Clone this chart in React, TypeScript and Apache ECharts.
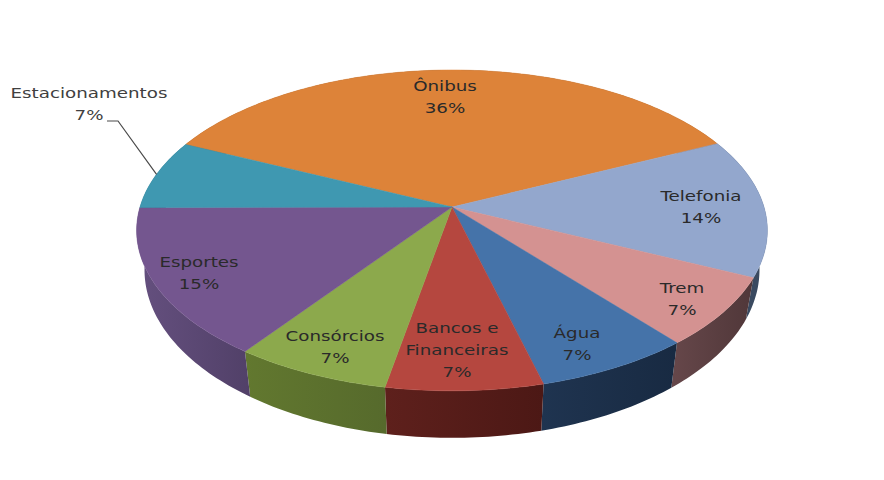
import React, { useEffect, useRef } from "react";
import * as echarts from "echarts";

// Share of complaints per sector, clockwise from the start of the largest slice.
const categories = ["Ônibus", "Telefonia", "Trem", "Água", "Bancos e\nFinanceiras", "Consórcios", "Esportes", "Estacionamentos"];
const shares = [36, 14, 7, 7, 7, 7, 15, 7];

const topColors = ["#DD8339", "#93A7CD", "#D49291", "#4573A9", "#B5473F", "#8CA94C", "#74568F", "#3F98B1"];
const wallLight = ["#8a5020", "#3a4a60", "#66474a", "#1f3450", "#5e201c", "#62782f", "#65507f", "#27606f"];
const wallDark = ["#8a5020", "#3a4a60", "#503739", "#182a42", "#4c1815", "#566a2c", "#514068", "#27606f"];

// Label centres on the page, in slice order; the last one sits outside the pie.
const labelCentres = [[445, 97], [701, 207], [682, 299], [577, 344], [457, 350], [335, 347], [199, 273], [89, 104]];
const LEADER_ELBOW_START = [107, 121];
const LEADER_ELBOW = [118, 121];

// The lettering is set wider than the font's natural proportions.
const LABEL_STRETCH = 1.26;

// Tilted-disc projection: apex of the pie, radii and perspective strength.
const APEX = { x: 452, y: 207 };
const RADIUS_X = 312;
const RADIUS_Y = 157;
const PERSPECTIVE = 0.146;
const START_ANGLE = -65;
const TOTAL = shares.reduce((a, b) => a + b, 0);

function project(deg: number, r = 1) {
  const t = (deg * Math.PI) / 180;
  const u = Math.sin(t) * r;
  const v = Math.cos(t) * r;
  const w = 1 + PERSPECTIVE * v;
  return { x: APEX.x + (RADIUS_X * u) / w, y: APEX.y - (RADIUS_Y * v) / w, v };
}

// The lower rim is slightly narrower and the wall is taller towards the viewer.
function lowerRim(deg: number) {
  const p = project(deg);
  return [APEX.x + (p.x - APEX.x) * 0.975, p.y + 38 - 9 * p.v];
}

function sliceAngles(index: number) {
  const before = shares.slice(0, index).reduce((a, b) => a + b, 0);
  const a0 = START_ANGLE + (before / TOTAL) * 360;
  return [a0, a0 + (shares[index] / TOTAL) * 360];
}

function arcSteps(a0: number, a1: number) {
  const n = Math.max(2, Math.ceil(a1 - a0));
  return Array.from({ length: n + 1 }, (_, i) => a0 + ((a1 - a0) * i) / n);
}

const sliceData = shares.map((value, i) => ({ name: categories[i], value: [i, value] }));

export default function App() {
  const ref = useRef<HTMLDivElement>(null);

  useEffect(() => {
    document.body.style.margin = "0";
    const chart = echarts.init(ref.current!, undefined, { renderer: "svg" });

    const renderWall = (_: any, api: any) => {
      const i = api.value(0);
      const [a0, a1] = sliceAngles(i);
      const angles = arcSteps(a0, a1);
      const top = angles.map((a) => {
        const p = project(a);
        return [p.x, p.y];
      });
      const bottom = angles.map(lowerRim).reverse();
      return {
        type: "polygon",
        shape: { points: [...top, ...bottom] },
        style: {
          fill: new echarts.graphic.LinearGradient(0, 0, 1, 0, [
            { offset: 0, color: wallLight[i] },
            { offset: 1, color: wallDark[i] },
          ]),
          stroke: "none",
        },
      };
    };

    const renderTop = (_: any, api: any) => {
      const i = api.value(0);
      const [a0, a1] = sliceAngles(i);
      const rim = arcSteps(a0, a1).map((a) => {
        const p = project(a);
        return [p.x, p.y];
      });
      return {
        type: "polygon",
        shape: { points: [[APEX.x, APEX.y], ...rim] },
        style: { fill: topColors[i], stroke: topColors[i], lineWidth: 0.5 },
      };
    };

    const renderLabel = (_: any, api: any) => {
      const i = api.value(0);
      const [x, y] = labelCentres[i];
      const text = {
        type: "text",
        x,
        y,
        scaleX: LABEL_STRETCH,
        style: {
          text: `${categories[i]}\n${api.value(1)}%`,
          x: 0,
          y: 0,
          align: "center",
          verticalAlign: "middle",
          font: '14.5px "DejaVu Sans"',
          lineHeight: 22,
          fill: i === 7 ? "#404040" : "#2a2a2a",
        },
      };
      if (i !== shares.length - 1) return text;
      const [a0, a1] = sliceAngles(i);
      const tip = project((a0 + a1) / 2);
      return {
        type: "group",
        children: [
          text,
          {
            type: "polyline",
            shape: { points: [LEADER_ELBOW_START, LEADER_ELBOW, [tip.x, tip.y]] },
            style: { fill: "none", stroke: "#4a4a4a", lineWidth: 1.2 },
          },
        ],
      };
    };

    const series = (renderItem: any, z: number) => ({
      type: "custom",
      coordinateSystem: "none",
      renderItem,
      z,
      silent: true,
      data: sliceData,
    });

    chart.setOption({
      animation: false,
      backgroundColor: "#ffffff",
      series: [series(renderWall, 1), series(renderTop, 2), series(renderLabel, 3)],
    });

    return () => chart.dispose();
  }, []);

  return <div ref={ref} style={{ width: 884, height: 480 }} />;
}
